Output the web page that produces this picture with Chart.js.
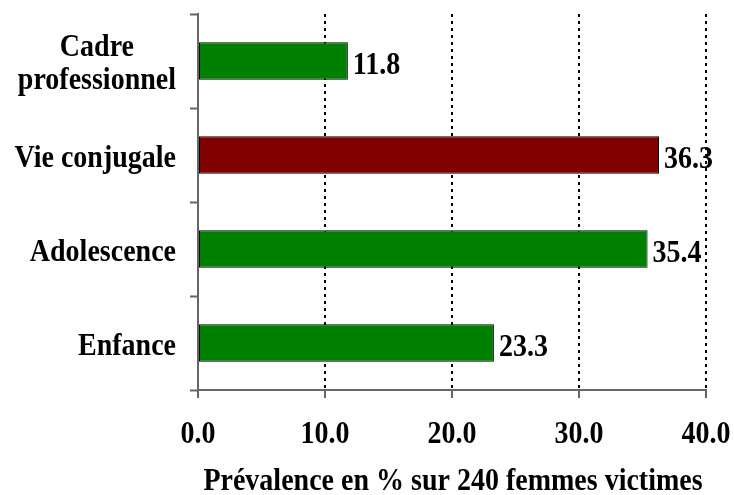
<!DOCTYPE html>
<html>
<head>
<meta charset="utf-8">
<script src="https://cdn.jsdelivr.net/npm/chart.js@4/dist/chart.umd.min.js"></script>
<style>
  html, body { margin: 0; padding: 0; background: #fff; }
  #wrap { width: 734px; height: 495px; }
</style>
</head>
<body>
<div id="wrap"><canvas id="prevChart" width="734" height="495"></canvas></div>
<script>
// Categories (top to bottom) and prevalence values in %
const categories = [['Cadre', 'professionnel'], 'Vie conjugale', 'Adolescence', 'Enfance'];
const prevalence = [11.8, 36.3, 35.4, 23.3];
const xMin = 0, xMax = 40, xStep = 10;
const axisTitle = 'Prévalence en % sur 240 femmes victimes';

const barColors = ['#008000', '#800000', '#008000', '#008000'];
const FONT = 'bold 28px "Liberation Serif", "Times New Roman", serif';
const STRETCH = 1.1; // lettering is a bit taller than wide

// draw one line of text, slightly stretched vertically, with (x, y) on the baseline
function tallText(ctx, text, x, y, align) {
    ctx.save();
    ctx.translate(x, y);
    ctx.scale(1, STRETCH);
    ctx.textAlign = align;
    ctx.textBaseline = 'alphabetic';
    ctx.fillText(text, 0, 0);
    ctx.restore();
}

// All lettering: category names, values, x tick labels and the axis title
const chartText = {
    id: 'chartText',
    afterDraw(chart) {
        const ctx = chart.ctx;
        const xScale = chart.scales.x;
        const yScale = chart.scales.y;
        const area = chart.chartArea;
        ctx.save();
        ctx.font = FONT;
        ctx.fillStyle = '#000';

        // category names, right aligned; the two-line one is centred on itself
        const right = 176;
        const lineH = 33;
        categories.forEach(function(cat, i) {
            const lines = Array.isArray(cat) ? cat : [cat];
            const w = Math.max.apply(null, lines.map(l => ctx.measureText(l).width));
            const cx = right - w / 2;
            const base = yScale.getPixelForValue(i) + 11.5;
            lines.forEach(function(line, j) {
                tallText(ctx, line, cx, base + (j - (lines.length - 1) / 2) * lineH, 'center');
            });
        });

        // values just past the end of each bar
        chart.getDatasetMeta(0).data.forEach(function(bar, i) {
            tallText(ctx, prevalence[i].toFixed(1), bar.x + 5, bar.y + 13, 'left');
        });

        // x tick labels
        xScale.ticks.forEach(function(t) {
            tallText(ctx, t.value.toFixed(1), xScale.getPixelForValue(t.value), area.bottom + 53, 'center');
        });

        // axis title
        tallText(ctx, axisTitle, (area.left + area.right) / 2 + 1, area.bottom + 100, 'center');
        ctx.restore();
    }
};

const ctx = document.getElementById('prevChart').getContext('2d');
const prevChart = new Chart(ctx, {
    type: 'bar',
    data: {
        labels: categories,
        datasets: [{
            data: prevalence,
            backgroundColor: barColors,
            borderColor: '#000',
            borderWidth: 1,
            borderSkipped: false,
            barPercentage: 0.4,
            categoryPercentage: 1
        }]
    },
    options: {
        indexAxis: 'y',
        responsive: false,
        animation: false,
        layout: { padding: { top: 14, right: 28, bottom: 0, left: 0 } },
        plugins: {
            legend: { display: false },
            tooltip: { enabled: false }
        },
        scales: {
            x: {
                min: xMin,
                max: xMax,
                ticks: { stepSize: xStep, display: false },
                grid: {
                    color: c => (c.tick && c.tick.value === 0) ? 'rgba(0,0,0,0)' : '#000',
                    lineWidth: 2,
                    tickColor: '#666',
                    tickWidth: 2,
                    tickBorderDash: [],
                    tickLength: 8
                },
                border: { color: '#666', width: 2, dash: [3, 4] },
                afterFit: function(scale) {
                    scale.height = 105;
                    scale.paddingLeft = 0;
                    scale.paddingRight = 0;
                }
            },
            y: {
                ticks: { display: false },
                grid: {
                    drawOnChartArea: false,
                    drawTicks: true,
                    tickLength: 8,
                    tickColor: '#666',
                    tickWidth: 2,
                    color: '#666'
                },
                border: { color: '#666', width: 2 },
                afterFit: function(scale) { scale.width = 198; }
            }
        }
    },
    plugins: [chartText]
});
</script>
</body>
</html>
